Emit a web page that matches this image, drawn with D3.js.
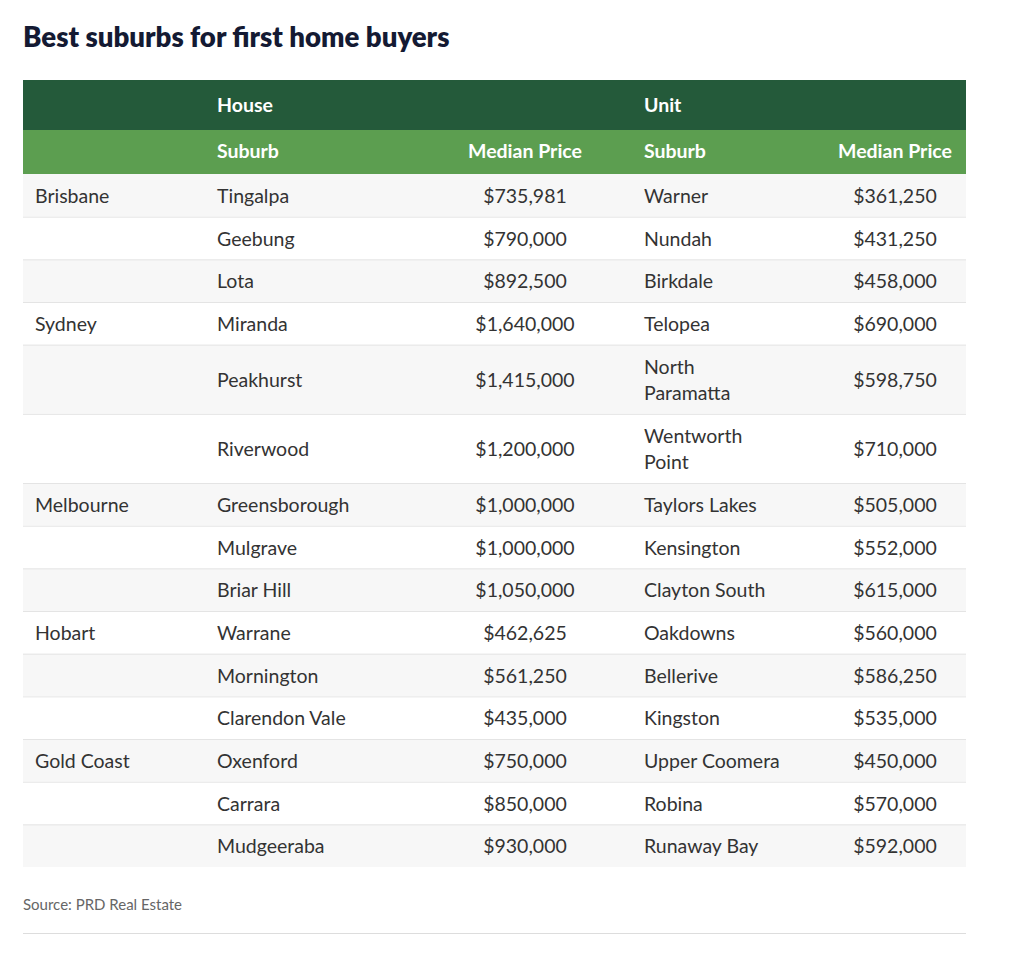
<!DOCTYPE html>
<html>
<head>
<meta charset="utf-8">
<script src="https://cdn.jsdelivr.net/npm/d3@7"></script>
<style>
  html, body { margin: 0; padding: 0; background: #ffffff; }
  svg { display: block; }
</style>
</head>
<body>
<svg id="chart" width="1024" height="978"></svg>
<script>
const title = "Best suburbs for first home buyers";
const source = "Source: PRD Real Estate";
const groupHeaders = ["", "House", "", "Unit", ""];
const columnHeaders = ["", "Suburb", "Median Price", "Suburb", "Median Price"];
const cities = ["Brisbane", "", "", "Sydney", "", "", "Melbourne", "", "", "Hobart", "", "", "Gold Coast", "", ""];
const houseSuburbs = ["Tingalpa", "Geebung", "Lota", "Miranda", "Peakhurst", "Riverwood", "Greensborough", "Mulgrave", "Briar Hill", "Warrane", "Mornington", "Clarendon Vale", "Oxenford", "Carrara", "Mudgeeraba"];
const housePrices = [735981, 790000, 892500, 1640000, 1415000, 1200000, 1000000, 1000000, 1050000, 462625, 561250, 435000, 750000, 850000, 930000];
const unitSuburbs = ["Warner", "Nundah", "Birkdale", "Telopea", "North Paramatta", "Wentworth Point", "Taylors Lakes", "Kensington", "Clayton South", "Oakdowns", "Bellerive", "Kingston", "Upper Coomera", "Robina", "Runaway Bay"];
const unitPrices = [361250, 431250, 458000, 690000, 598750, 710000, 505000, 552000, 615000, 560000, 586250, 535000, 450000, 570000, 592000];

const FONT = "Lato, 'Noto Sans', sans-serif";
const FS = 19.5;
const fmt = v => "$" + d3.format(",")(v);
const svg = d3.select("#chart");

const left = 23, right = 966;
const colKeys = ["city", "hs", "hp", "us", "up"];
const colX = d3.scaleOrdinal().domain(colKeys).range([35, 217, 525, 644, 895]);
const colAnchor = d3.scaleOrdinal().domain(colKeys).range(["start", "start", "middle", "start", "middle"]);
const wrapWidth = d3.scaleOrdinal().domain(colKeys).range([160, 230, 200, 139, 200]);

// title
svg.append("text").attr("x", left).attr("y", 47)
  .attr("font-family", FONT).attr("font-weight", 800).attr("font-size", 27.6)
  .attr("fill", "#141a33").text(title);

// header rows
const h1Top = 80, h1H = 50, h2H = 44;
svg.append("rect").attr("x", left).attr("y", h1Top).attr("width", right - left).attr("height", h1H).attr("fill", "#245a3a");
svg.append("rect").attr("x", left).attr("y", h1Top + h1H).attr("width", right - left).attr("height", h2H).attr("fill", "#5c9e50");
colKeys.forEach((k, i) => {
  if (groupHeaders[i]) svg.append("text").attr("x", colX(k)).attr("y", h1Top + h1H / 2 - 1)
    .attr("dominant-baseline", "central").attr("text-anchor", colAnchor(k))
    .attr("font-family", FONT).attr("font-weight", 700).attr("font-size", FS).attr("fill", "#fff").text(groupHeaders[i]);
  if (columnHeaders[i]) svg.append("text").attr("x", colX(k)).attr("y", h1Top + h1H + h2H / 2 - 2)
    .attr("dominant-baseline", "central").attr("text-anchor", colAnchor(k))
    .attr("font-family", FONT).attr("font-weight", 700).attr("font-size", FS).attr("fill", "#fff").text(columnHeaders[i]);
});

// body
const rows = cities.map((c, i) => ({
  city: c, hs: houseSuburbs[i], hp: fmt(housePrices[i]), us: unitSuburbs[i], up: fmt(unitPrices[i])
}));
const measure = svg.append("text").attr("font-family", FONT).attr("font-size", FS).attr("visibility", "hidden");
function wrap(str, w) {
  const words = str.split(" ");
  const lines = [];
  let cur = "";
  words.forEach(wd => {
    const t = cur ? cur + " " + wd : wd;
    measure.text(t);
    if (measure.node().getComputedTextLength() > w && cur) { lines.push(cur); cur = wd; }
    else cur = t;
  });
  if (cur) lines.push(cur);
  return lines;
}
const lineH = 26.5, basePad = 16.17;
let y = h1Top + h1H + h2H;
rows.forEach((r, i) => {
  r.lines = {};
  colKeys.forEach(k => r.lines[k] = wrap(r[k], wrapWidth(k)));
  const n = d3.max(colKeys, k => r.lines[k].length);
  r.h = basePad + n * lineH;
  r.y = y; y += r.h;
});
measure.remove();

const g = svg.append("g");
rows.forEach((r, i) => {
  g.append("rect").attr("x", left).attr("y", r.y).attr("width", right - left).attr("height", r.h)
    .attr("fill", i % 2 === 0 ? "#f7f7f7" : "#ffffff");
  if (i > 0) g.append("line").attr("x1", left).attr("x2", right).attr("y1", r.y + 0.5).attr("y2", r.y + 0.5)
    .attr("stroke", "#e4e4e4").attr("stroke-width", 1);
  colKeys.forEach(k => {
    const ls = r.lines[k];
    ls.forEach((ln, j) => {
      g.append("text").attr("x", colX(k))
        .attr("y", r.y + r.h / 2 + (j - (ls.length - 1) / 2) * lineH)
        .attr("dominant-baseline", "central").attr("text-anchor", colAnchor(k))
        .attr("font-family", FONT).attr("font-size", FS).attr("fill", "#333333").text(ln);
    });
  });
});

// source + bottom rule
svg.append("text").attr("x", left).attr("y", 910)
  .attr("font-family", FONT).attr("font-size", 15).attr("fill", "#666666").text(source);
svg.append("line").attr("x1", left).attr("x2", right).attr("y1", 933.5).attr("y2", 933.5)
  .attr("stroke", "#dddddd").attr("stroke-width", 1);
</script>
</body>
</html>
